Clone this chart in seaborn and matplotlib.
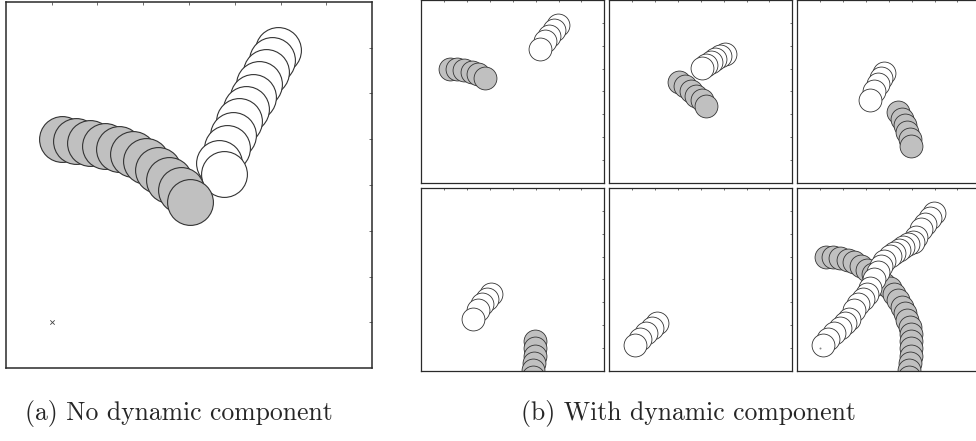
import pandas as pd
import seaborn as sns
import matplotlib.pyplot as plt

# (a) no dynamic component: centres of the two discs over time
a_gray_x = [1.22, 1.54, 1.85, 2.17, 2.48, 2.77, 3.07, 3.33, 3.57, 3.82, 4.03]
a_gray_y = [5.00, 4.97, 4.92, 4.86, 4.78, 4.67, 4.52, 4.33, 4.11, 3.88, 3.62]
a_white_x = [5.95, 5.82, 5.68, 5.53, 5.39, 5.24, 5.10, 4.95, 4.82, 4.66, 4.77]
a_white_y = [6.94, 6.72, 6.47, 6.20, 5.93, 5.65, 5.39, 5.10, 4.80, 4.49, 4.24]

# (b) with dynamic component: five time windows
b_gray_x = [
    [1.25, 1.55, 1.87, 2.20, 2.50, 2.78],
    [3.05, 3.32, 3.58, 3.81, 4.05, 4.24],
    [4.42, 4.56, 4.69, 4.81, 4.91, 4.99],
    [4.98, 4.99, 4.96, 4.93, 4.90, 4.87],
    [],
]
b_gray_y = [
    [5.00, 4.97, 4.93, 4.87, 4.77, 4.60],
    [4.43, 4.23, 4.04, 3.82, 3.62, 3.38],
    [3.08, 2.81, 2.52, 2.22, 1.92, 1.60],
    [1.29, 0.98, 0.66, 0.34, 0.03, -0.29],
    [],
]
b_white_x = [
    [5.98, 5.78, 5.59, 5.40, 5.20],
    [5.04, 4.84, 4.64, 4.43, 4.24, 4.05],
    [3.81, 3.66, 3.51, 3.35, 3.18],
    [3.03, 2.86, 2.67, 2.48, 2.28],
    [2.10, 1.85, 1.60, 1.35, 1.11],
]
b_white_y = [
    [6.92, 6.70, 6.45, 6.19, 5.85],
    [5.63, 5.54, 5.41, 5.28, 5.15, 5.02],
    [4.82, 4.59, 4.33, 4.01, 3.63],
    [3.38, 3.16, 2.94, 2.65, 2.28],
    [2.09, 1.89, 1.67, 1.41, 1.12],
]

target_x = [1.0]
target_y = [1.0]
ticks = [1, 2, 3, 4, 5, 6, 7]
captions = ["(a) No dynamic component", "(b) With dynamic component"]

GRAY = "#c0c0c0"
EDGE = "#333333"

sns.set_style("white")
fig = plt.figure(figsize=(9.76, 4.41), dpi=100)


def setup_axes(rect, spine_lw, tick_len):
    ax = fig.add_axes(rect)
    ax.set_xlim(0, 8)
    ax.set_ylim(0, 8)
    ax.set_xticks(ticks)
    ax.set_yticks(ticks)
    ax.tick_params(direction="in", length=tick_len, width=0.6, color="#555555",
                   top=True, right=True, labelbottom=False, labelleft=False)
    for sp in ax.spines.values():
        sp.set_linewidth(spine_lw)
        sp.set_color("#2a2a2a")
    return ax


def disc_size(ax):
    # marker area so that a disc has a diameter of one data unit
    x0 = ax.transData.transform((0, 0))[0]
    x1 = ax.transData.transform((1, 0))[0]
    return ((x1 - x0) * 72 / fig.dpi) ** 2


def draw_trail(ax, xs, ys, fill, lw):
    if not xs:
        return
    df = pd.DataFrame({"x": xs, "y": ys})
    sns.scatterplot(data=df, x="x", y="y", ax=ax, s=disc_size(ax), color=fill,
                    edgecolor=EDGE, linewidth=lw, legend=False)
    ax.set_xlabel("")
    ax.set_ylabel("")


# panel (a)
ax = setup_axes([5.7 / 976, 72.7 / 441, 366.6 / 976, 366.6 / 441], 1.1, 2.5)
draw_trail(ax, a_white_x, a_white_y, "white", 0.8)
draw_trail(ax, a_gray_x, a_gray_y, GRAY, 0.8)
sns.scatterplot(x=target_x, y=target_y, ax=ax, marker="x", s=10, color="#444444",
                linewidth=0.6, legend=False)

# panel (b): 2 x 3 grid, last cell shows the whole run
lefts = [421.3, 609.3, 797.3]
bottoms = [441 - 182.7, 441 - 370.7]
for i in range(6):
    r, c = divmod(i, 3)
    ax = setup_axes([lefts[c] / 976, bottoms[r] / 441, 183 / 976, 182.5 / 441], 0.9, 1.5)
    if i < 5:
        gx, gy, wx, wy = b_gray_x[i], b_gray_y[i], b_white_x[i], b_white_y[i]
    else:
        gx = sum(b_gray_x, [])
        gy = sum(b_gray_y, [])
        wx = sum(b_white_x, [])
        wy = sum(b_white_y, [])
    draw_trail(ax, gx, gy, GRAY, 0.6)
    draw_trail(ax, wx, wy, "white", 0.6)
    if i == 5:
        sns.scatterplot(x=target_x, y=target_y, ax=ax, marker="o", s=2,
                        color="#888888", linewidth=0, legend=False)

fig.text(25 / 976, 0.062, captions[0], ha="left", va="center",
         fontsize=18.5, family="cmr10")
fig.text(521 / 976, 0.062, captions[1], ha="left", va="center",
         fontsize=18.5, family="cmr10")

fig.savefig("out.png", dpi=100)
